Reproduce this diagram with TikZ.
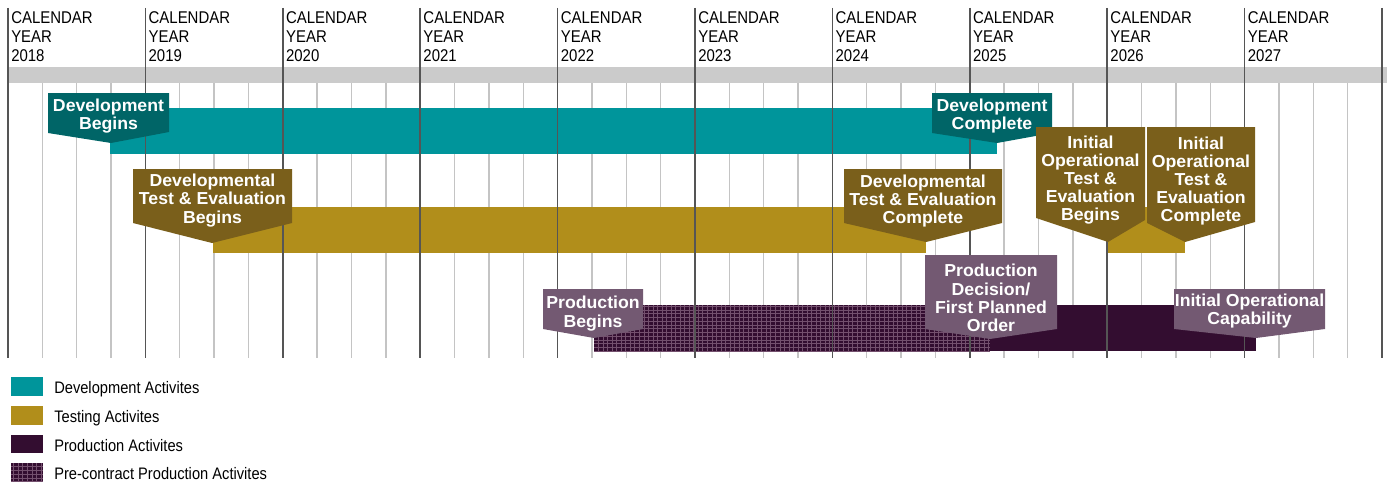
\documentclass[tikz,border=0pt]{standalone}
\usepackage{fontspec}
\setmainfont{Liberation Sans}
\newfontfamily\narrowfont{Liberation Sans}[FakeStretch=0.88]
\newfontfamily\tagfont{Liberation Sans Bold}[FakeStretch=1.02]
\usetikzlibrary{positioning}
\definecolor{devbar}{HTML}{00959B}
\definecolor{devtag}{HTML}{006567}
\definecolor{testbar}{HTML}{B18E1B}
\definecolor{testtag}{HTML}{7A5F1B}
\definecolor{prodbar}{HTML}{330D30}
\definecolor{prodtag}{HTML}{735972}
\definecolor{hatchc}{HTML}{74506E}
\definecolor{bandc}{HTML}{CBCBCB}
\definecolor{yearc}{HTML}{555555}
\definecolor{qc}{HTML}{C4C4C4}
\tikzset{
  yearline/.style = { draw=yearc, line width=1.1pt },
  qline/.style    = { draw=qc, line width=1.0pt },
  yearlbl/.style  = { anchor=north west, inner sep=0pt, align=left,
    font=\narrowfont\fontsize{12.75}{14.25}\selectfont },
  tagtext/.style  = { text=white, inner sep=0pt, align=center,
    font=\tagfont\fontsize{13}{13.6}\selectfont },
  legtext/.style  = { anchor=base west, inner sep=0pt,
    font=\narrowfont\fontsize{12.5}{14}\selectfont },
  hatch/.style    = { draw=hatchc, line width=0.3pt, xstep=3.4pt, ystep=2.8pt }
}
\begin{document}
\begin{tikzpicture}[x=0.75pt,y=-0.75pt]
  \useasboundingbox (0,0) rectangle (1387,485);
  % grey band and quarter lines
  \fill[bandc] (8,67) rectangle (1387,83);
  \foreach \j in {1,...,39}
    \draw[qline] ({8+34.35*\j},83) -- ({8+34.35*\j},358);
  % bars
  \fill[devbar] (110,108) rectangle (997,154);
  \fill[testbar] (213,207) rectangle (926,253);
  \fill[testbar] (1107,207) rectangle (1185,253);
  \fill[prodbar] (594,305) rectangle (1256,351);
  \draw[hatch] (594,305) grid (990,351);
  % year lines and labels
  \foreach \k in {0,...,10}
    \draw[yearline] ({8+137.4*\k},8) -- ({8+137.4*\k},358);
  \foreach \yr [count=\i from 0] in {2018,...,2027}
    \node[yearlbl] (cy\yr) at ({11+137.4*\i},11) {CALENDAR\\YEAR\\\yr};
  % callouts
  \fill[devtag] (48,93) -- (169,93) -- (169,132) -- (111,143) -- (48,133) -- cycle;
  \node[tagtext] (devbeg) at (108.5,116) {Development\\Begins};
  \fill[devtag] (932,93) -- (1052,93) -- (1052,133) -- (997,143) -- (932,133) -- cycle;
  \node[tagtext] (devend) at (992,116) {Development\\Complete};
  \fill[testtag] (133,169) -- (292,169) -- (292,223) -- (212,243) -- (133,223) -- cycle;
  \node[tagtext] (dtebeg) at (212.5,200.5) {Developmental\\Test \& Evaluation\\Begins};
  \fill[testtag] (844,169) -- (1002,169) -- (1002,223) -- (926,242) -- (844,223) -- cycle;
  \node[tagtext] (dteend) at (923,201) {Developmental\\Test \& Evaluation\\Complete};
  \fill[testtag] (1036,127) -- (1145,127) -- (1145,220) -- (1108,242) -- (1036,218) -- cycle;
  \node[tagtext] (iotbeg) at (1090.5,180) {Initial\\Operational\\Test \&\\Evaluation\\Begins};
  \fill[testtag] (1147,127) -- (1255,127) -- (1255,222) -- (1185,242) -- (1147,223) -- cycle;
  \node[tagtext] (iotend) at (1201,181) {Initial\\Operational\\Test \&\\Evaluation\\Complete};
  \fill[prodtag] (543,289) -- (643,289) -- (643,329) -- (594,338) -- (543,329) -- cycle;
  \node[tagtext] (prodbeg) at (593,313.5) {Production\\Begins};
  \fill[prodtag] (925,255) -- (1057,255) -- (1057,329) -- (990,339) -- (925,329) -- cycle;
  \node[tagtext] (proddec) at (991,298) {Production\\Decision/\\First Planned\\Order};
  \fill[prodtag] (1174,289) -- (1325,289) -- (1325,329) -- (1256,338) -- (1174,329) -- cycle;
  \node[tagtext] (ioc) at (1249.5,311) {Initial Operational\\Capability};
  % legend
  \fill[devbar] (11,377) rectangle (43,396);
  \node[legtext] (legdev) at (54,393) {Development Activites};
  \fill[testbar] (11,406) rectangle (43,425);
  \node[legtext] (legtest) at (54,422.5) {Testing Activites};
  \fill[prodbar] (11,435) rectangle (43,453);
  \node[legtext] (legprod) at (54,451.5) {Production Activites};
  \fill[prodbar] (11,463) rectangle (43,482);
  \draw[hatch] (11,463) grid (43,482);
  \node[legtext] (legpre) at (54,479.5) {Pre-contract Production Activites};
\end{tikzpicture}
\end{document}
